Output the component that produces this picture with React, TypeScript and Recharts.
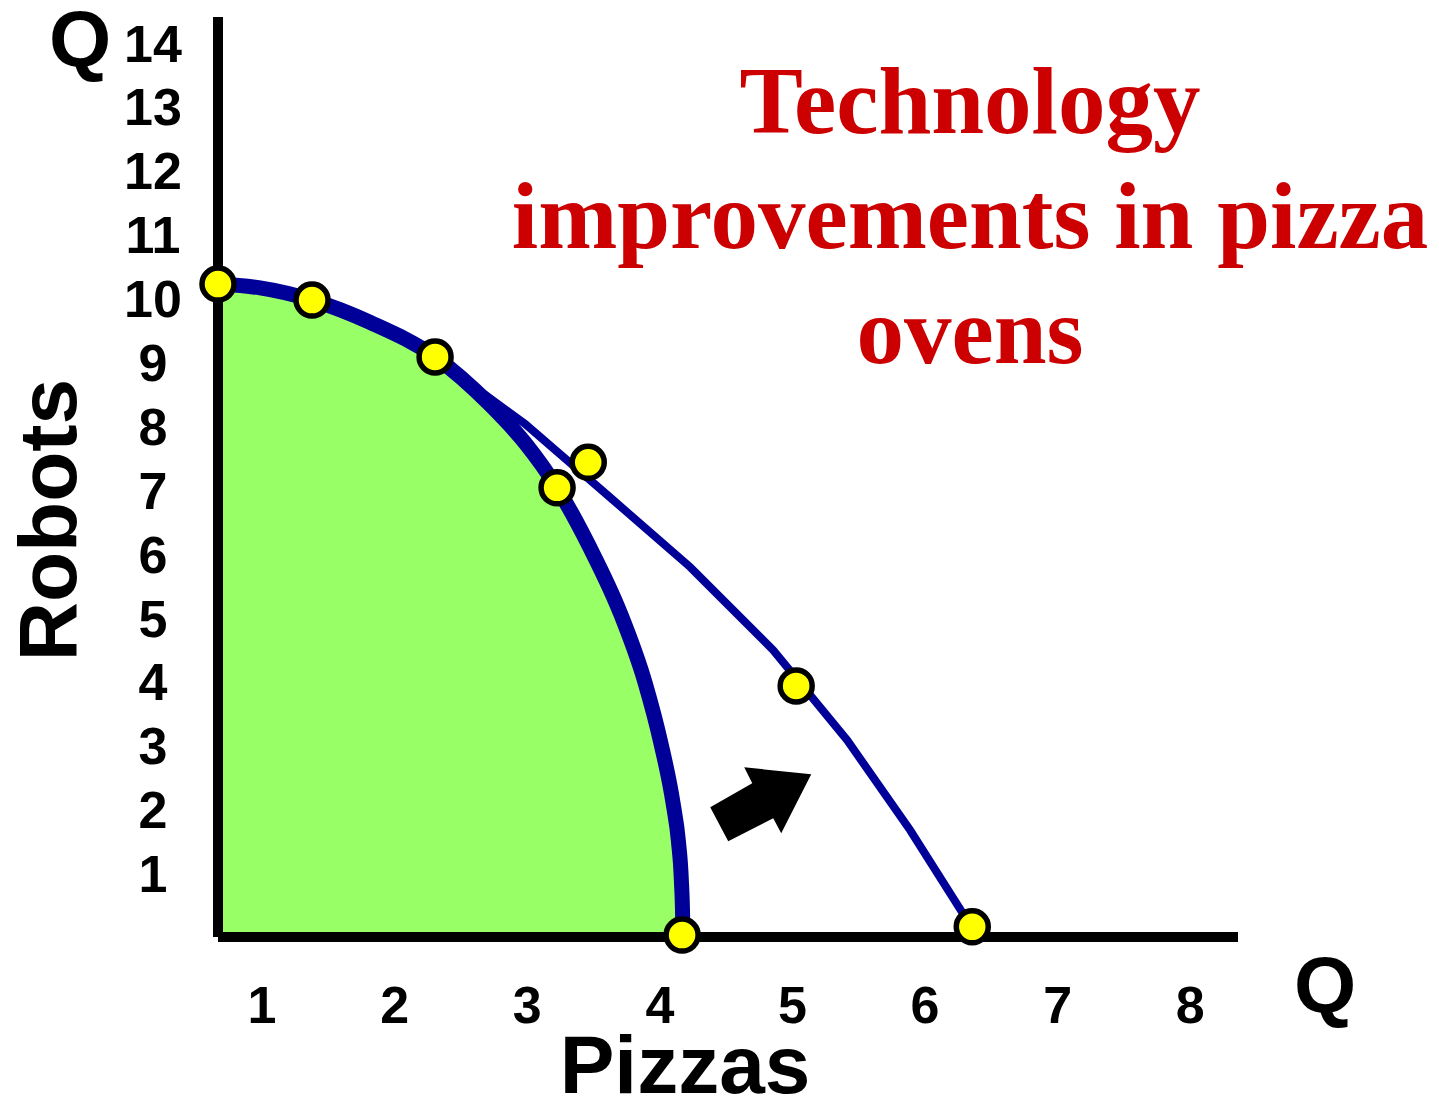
import React from "react";
import {
  ComposedChart,
  Area,
  Line,
  Scatter,
  XAxis,
  YAxis,
  ReferenceDot,
  Customized,
} from "recharts";

// tick labels
const xTicks = [1, 2, 3, 4, 5, 6, 7, 8];
const yTicks = [1, 2, 3, 4, 5, 6, 7, 8, 9, 10, 11, 12, 13, 14];

// original frontier (thick curve, shaded)
const innerPPF = [
  { x: 0.668, y: 10.22 },
  { x: 0.985, y: 10.16 },
  { x: 1.377, y: 9.97 },
  { x: 1.815, y: 9.62 },
  { x: 2.305, y: 9.08 },
  { x: 2.72, y: 8.33 },
  { x: 2.985, y: 7.73 },
  { x: 3.225, y: 7.03 },
  { x: 3.474, y: 6.09 },
  { x: 3.7, y: 5.08 },
  { x: 3.89, y: 3.97 },
  { x: 4.005, y: 3.06 },
  { x: 4.1, y: 2.09 },
  { x: 4.14, y: 1.5 },
  { x: 4.162, y: 0.9 },
  { x: 4.172, y: 0.3 },
  { x: 4.174, y: 0.03 },
];

// shifted frontier after technology improvement
const outerPPF = [
  { x: 2.305, y: 9.08 },
  { x: 2.667, y: 8.51 },
  { x: 2.984, y: 8.03 },
  { x: 3.603, y: 6.92 },
  { x: 4.229, y: 5.79 },
  { x: 4.855, y: 4.49 },
  { x: 5.413, y: 3.08 },
  { x: 5.888, y: 1.67 },
  { x: 6.34, y: 0.19 },
];

const points = [
  { x: 0.668, y: 10.22 },
  { x: 1.377, y: 9.97 },
  { x: 2.305, y: 9.08 },
  { x: 3.225, y: 7.03 },
  { x: 3.46, y: 7.43 },
  { x: 5.028, y: 3.93 },
  { x: 4.168, y: 0.03 },
  { x: 6.356, y: 0.16 },
];

const arrowAt = { x: 4.757, y: 2.14 };

const titleLines = ["Technology", "improvements in pizza", "ovens"];

const NAVY = "#000099";
const SANS = "'Liberation Sans', Arial, sans-serif";
const SERIF = "'Liberation Serif', 'Times New Roman', serif";

const YTick = ({ x, y, payload }: any) => (
  <text x={x - 65} y={y} dy={19} textAnchor="middle" fontFamily={SANS} fontWeight="bold" fontSize={52} fill="#000">
    {payload.value}
  </text>
);

const XTick = ({ x, y, payload }: any) => (
  <text x={x} y={y} dy={86} textAnchor="middle" fontFamily={SANS} fontWeight="bold" fontSize={52} fill="#000">
    {payload.value}
  </text>
);

const Arrow = ({ cx, cy }: any) => (
  <polygon
    points={[
      [-50, 7],
      [-8, -17],
      [-16, -33],
      [51, -26],
      [21, 33],
      [13, 18],
      [-32, 41],
    ]
      .map(([dx, dy]) => `${cx + dx},${cy + dy}`)
      .join(" ")}
    fill="#000"
  />
);

const Dot = ({ cx, cy }: any) => (
  <circle cx={cx} cy={cy} r={16} fill="#FFFF00" stroke="#000" strokeWidth={5.5} />
);

const Labels = () => (
  <g>
    {titleLines.map((t, i) => (
      <text key={t} x={970} y={133 + i * 115} textAnchor="middle" fontFamily={SERIF} fontWeight="bold" fontSize={95} fill="#CC0000">
        {t}
      </text>
    ))}
    <text x={80} y={66} textAnchor="middle" fontFamily={SANS} fontWeight="bold" fontSize={80} fill="#000">Q</text>
    <text x={1325} y={1012} textAnchor="middle" fontFamily={SANS} fontWeight="bold" fontSize={80} fill="#000">Q</text>
    <text x={0} y={0} transform="translate(76,520) rotate(-90)" textAnchor="middle" fontFamily={SANS} fontWeight="bold" fontSize={82} fill="#000">
      Robots
    </text>
    <text x={685} y={1093} textAnchor="middle" fontFamily={SANS} fontWeight="bold" fontSize={82} fill="#000">
      Pizzas
    </text>
  </g>
);

export default function App() {
  return (
    <div style={{ position: "absolute", left: 0, top: 0, width: 1439, height: 1098, background: "#fff" }}>
      <ComposedChart width={1439} height={1098} margin={{ top: 17, right: 201, bottom: 0, left: 0 }}>
        <XAxis
          type="number"
          dataKey="x"
          domain={[0.668, 8.36]}
          ticks={xTicks}
          height={161}
          axisLine={{ stroke: "#000", strokeWidth: 10 }}
          tickLine={false}
          tickSize={0}
          tickMargin={0}
          tick={<XTick />}
        />
        <YAxis
          type="number"
          dataKey="y"
          domain={[0, 14.4]}
          ticks={yTicks}
          width={218}
          axisLine={{ stroke: "#000", strokeWidth: 10 }}
          tickLine={false}
          tickSize={0}
          tickMargin={0}
          tick={<YTick />}
        />
        <Area
          data={innerPPF}
          dataKey="y"
          type="monotone"
          fill="#99FF66"
          fillOpacity={1}
          stroke={NAVY}
          strokeWidth={15}
          isAnimationActive={false}
        />
        <Line
          data={outerPPF}
          dataKey="y"
          type="linear"
          stroke={NAVY}
          strokeWidth={8}
          dot={false}
          isAnimationActive={false}
        />
        <ReferenceDot x={arrowAt.x} y={arrowAt.y} shape={<Arrow />} />
        <Scatter data={points} dataKey="y" shape={<Dot />} isAnimationActive={false} />
        <Customized component={Labels} />
      </ComposedChart>
    </div>
  );
}
